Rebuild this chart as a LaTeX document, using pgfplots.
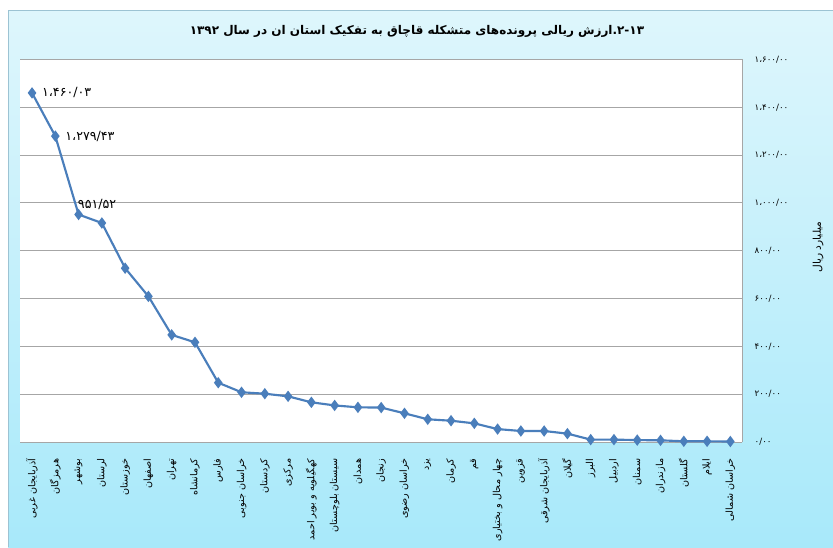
\documentclass[border=0pt]{standalone}
\usepackage{fontspec}
\usepackage{pgfplots}
\pgfplotsset{compat=1.18}
\TeXXeTstate=1
\newfontfamily\fa[Script=Arabic]{DejaVu Sans}
\definecolor{serie}{HTML}{4A7EBB}
\definecolor{grille}{HTML}{A6A6A6}
\definecolor{cadre}{HTML}{9CC3D3}
\definecolor{fondhaut}{RGB}{222,246,252}
\definecolor{fondbas}{RGB}{168,233,250}

\begin{document}
\begin{tikzpicture}[x=0.75pt,y=0.75pt]
% fond (unites = pixels, origine en bas a gauche)
\fill[white] (0,0) rectangle (833,547);
\shade[top color=fondhaut, bottom color=fondbas] (8,0) rectangle (833,536);
\draw[cadre, line width=0.75pt] (8.5,0) -- (8.5,536) -- (833,536);

\node[font=\fa\fontsize{9}{11}\selectfont\bfseries] at (417,516)
  {\beginR ۲-۱۳.ارزش ریالی پرونده‌های متشکله قاچاق به تفکیک استان ان در سال ۱۳۹۲\endR};
\node[font=\fa\fontsize{8}{9}\selectfont, rotate=90] at (818,300) {\beginR میلیارد ریال\endR};

\begin{axis}[
    at={(15.3pt,78.75pt)}, anchor=south west,
    scale only axis,
    width=541.2pt, height=286.9pt,
    xmin=-0.5, xmax=30.5,
    ymin=0, ymax=1600,
    axis line style={draw=none},
    axis background/.style={fill=white},
    ymajorgrids=true,
    grid style={grille, line width=0.75pt},
    major tick length=0pt,
    extra x ticks={30.5},
    extra x tick labels={},
    extra x tick style={xmajorgrids=true},
    yticklabel pos=right,
    ytick={0,200,...,1600},
    yticklabels={۰/۰۰,۲۰۰/۰۰,۴۰۰/۰۰,۶۰۰/۰۰,۸۰۰/۰۰,۱،۰۰۰/۰۰,۱،۲۰۰/۰۰,۱،۴۰۰/۰۰,۱،۶۰۰/۰۰},
    yticklabel style={font=\fa\fontsize{6.5}{7.5}\selectfont, anchor=west, xshift=6pt},
    xtick={0,...,30},
    xticklabels={
      \beginR آذربایجان غربی\endR,\beginR هرمزگان\endR,\beginR بوشهر\endR,
      \beginR لرستان\endR,\beginR خوزستان\endR,\beginR اصفهان\endR,
      \beginR تهران\endR,\beginR کرمانشاه\endR,\beginR فارس\endR,
      \beginR خراسان جنوبی\endR,\beginR کردستان\endR,\beginR مرکزی\endR,
      \beginR کهگیلویه و بویر احمد\endR,\beginR سیستان بلوچستان\endR,
      \beginR همدان\endR,\beginR زنجان\endR,\beginR خراسان رضوی\endR,
      \beginR یزد\endR,\beginR کرمان\endR,\beginR قم\endR,
      \beginR چهار محال و بختیاری\endR,\beginR قزوین\endR,
      \beginR آذربایجان شرقی\endR,\beginR گیلان\endR,\beginR البرز\endR,
      \beginR اردبیل\endR,\beginR سمنان\endR,\beginR مازندران\endR,
      \beginR گلستان\endR,\beginR ایلام\endR,\beginR خراسان شمالی\endR},
    xticklabel style={font=\fa\fontsize{7.2}{8.5}\selectfont, rotate=90, anchor=east, xshift=-9pt},
]

\addplot[color=serie, line width=1.6pt, mark=diamond*, mark size=3pt,
         mark options={fill=serie, draw=serie}] coordinates {
    (0,1460.03)(1,1279.43)(2,951.52)(3,916)(4,727)(5,609)(6,448)(7,417)
    (8,248)(9,208)(10,202)(11,191)(12,166)(13,153)(14,145)(15,144)
    (16,120)(17,95)(18,89)(19,78)(20,54)(21,46)(22,46)(23,35)
    (24,10)(25,10)(26,8)(27,7)(28,3)(29,3)(30,2)
};

\addplot[draw=none, mark=none, nodes near coords, point meta=explicit symbolic,
         every node near coord/.append style={font=\fa\fontsize{9.5}{11}\selectfont,
             anchor=west, xshift=4pt, text=black}] coordinates {
    (0,1460.03)[۱،۴۶۰/۰۳] (1,1279.43)[۱،۲۷۹/۴۳]
};
\addplot[draw=none, mark=none, nodes near coords, point meta=explicit symbolic,
         every node near coord/.append style={font=\fa\fontsize{9.5}{11}\selectfont,
             anchor=south west, xshift=-4pt, yshift=0pt, text=black}] coordinates {
    (2,951.52)[۹۵۱/۵۲]
};
\end{axis}

\pgfresetboundingbox
\path (0,0) rectangle (833,547);
\end{tikzpicture}
\end{document}
